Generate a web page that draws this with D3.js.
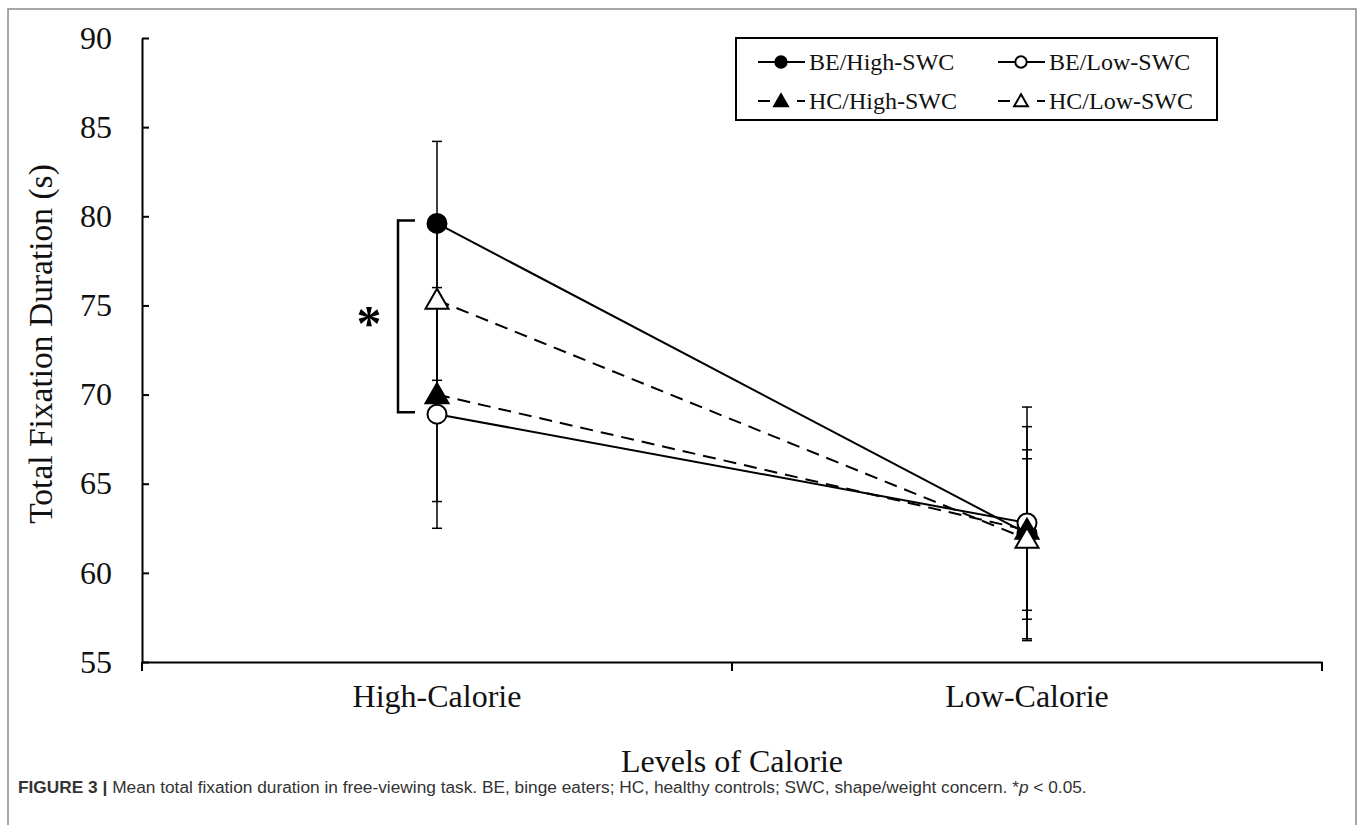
<!DOCTYPE html>
<html>
<head>
<meta charset="utf-8">
<script src="https://cdn.jsdelivr.net/npm/d3@7"></script>
<style>
  html, body { margin: 0; padding: 0; background: #fff; }
  svg { display: block; }
</style>
</head>
<body>
<svg id="chart" width="1363" height="825"></svg>
<script>
// ---------------- data ----------------
const categories = ["High-Calorie", "Low-Calorie"];
const seriesNames = ["BE/High-SWC", "BE/Low-SWC", "HC/High-SWC", "HC/Low-SWC"];
const beHighMeans = [79.6, 62.2];
const beLowMeans  = [68.9, 62.8];
const hcHighMeans = [70.0, 62.4];
const hcLowMeans  = [75.3, 61.9];
const beHighErr = [4.6, 6.0];
const beLowErr  = [6.4, 6.5];
const hcHighErr = [6.0, 4.5];
const hcLowErr  = [4.5, 4.5];
const yTicks = [55, 60, 65, 70, 75, 80, 85, 90];
const yTitle = "Total Fixation Duration (s)";
const xTitle = "Levels of Calorie";
const captionBold = "FIGURE 3 | ";
const captionText = "Mean total fixation duration in free-viewing task. BE, binge eaters; HC, healthy controls; SWC, shape/weight concern. *";
const captionItalic = "p";
const captionEnd = " < 0.05.";

// styling per series (not data)
const seriesStyle = [
  { shape: "circle",   fill: "#000", dash: null },
  { shape: "circle",   fill: "#fff", dash: null },
  { shape: "triangle", fill: "#000", dash: "13,8" },
  { shape: "triangle", fill: "#fff", dash: "13,8" }
];
const meansList = [beHighMeans, beLowMeans, hcHighMeans, hcLowMeans];
const errList = [beHighErr, beLowErr, hcHighErr, hcLowErr];
const series = seriesNames.map((name, i) => ({
  name,
  style: seriesStyle[i],
  values: categories.map((c, j) => ({ cat: c, mean: meansList[i][j], err: errList[i][j] }))
}));

// ---------------- layout ----------------
const svg = d3.select("#chart");
const serif = "'Liberation Serif', 'Times New Roman', serif";
const sans = "'Liberation Sans', Arial, Helvetica, sans-serif";

// figure frame
svg.append("rect")
  .attr("x", 8).attr("y", 9).attr("width", 1348).attr("height", 830)
  .attr("fill", "none").attr("stroke", "#8a8a8a").attr("stroke-width", 1.5);

const plot = { left: 142, right: 1322, top: 38, bottom: 662 };

const x = d3.scaleBand().domain(categories).range([plot.left, plot.right]).padding(0);
const y = d3.scaleLinear().domain([55, 90]).range([plot.bottom, plot.top]);
const cx = c => x(c) + x.bandwidth() / 2;

// y axis
const yAxis = svg.append("g")
  .attr("transform", `translate(${plot.left},0)`)
  .call(d3.axisLeft(y).tickValues(yTicks).tickSizeInner(-7).tickSizeOuter(0).tickPadding(30).tickFormat(d3.format("d")));
yAxis.select(".domain").attr("stroke", "#000").attr("stroke-width", 2);
yAxis.selectAll(".tick line").attr("stroke", "#000").attr("stroke-width", 2);
yAxis.selectAll(".tick text").attr("font-family", serif).attr("font-size", 32).attr("fill", "#111");

// x axis: labels at band centres, ticks at band edges
const xAxis = svg.append("g")
  .attr("transform", `translate(0,${plot.bottom})`)
  .call(d3.axisBottom(x).tickSize(0).tickPadding(22));
xAxis.select(".domain").attr("stroke", "#000").attr("stroke-width", 2);
xAxis.selectAll(".tick text").attr("font-family", serif).attr("font-size", 32).attr("fill", "#111");
const edges = categories.map(c => x(c)).concat([x(categories[categories.length - 1]) + x.bandwidth()]);
xAxis.selectAll(".edge-tick").data(edges).enter().append("line")
  .attr("class", "edge-tick")
  .attr("x1", d => d).attr("x2", d => d).attr("y1", 0).attr("y2", 9)
  .attr("stroke", "#000").attr("stroke-width", 2);

// axis titles
svg.append("text")
  .attr("transform", `translate(40,${(plot.top + plot.bottom) / 2 - 6}) rotate(-90)`)
  .attr("text-anchor", "middle").attr("dominant-baseline", "central")
  .attr("font-family", serif).attr("font-size", 33.5).attr("fill", "#111")
  .text(yTitle);
svg.append("text")
  .attr("x", (plot.left + plot.right) / 2).attr("y", 772)
  .attr("text-anchor", "middle")
  .attr("font-family", serif).attr("font-size", 32).attr("fill", "#111")
  .text(xTitle);

// ---------------- marks ----------------
const g = svg.append("g");

// error bars
series.forEach(s => {
  const eb = g.append("g");
  s.values.forEach(v => {
    const px = cx(v.cat);
    eb.append("line").attr("x1", px).attr("x2", px)
      .attr("y1", y(v.mean + v.err)).attr("y2", y(v.mean - v.err))
      .attr("stroke", "#000").attr("stroke-width", 1.5);
    [v.mean + v.err, v.mean - v.err].forEach(e => {
      eb.append("line").attr("x1", px - 5).attr("x2", px + 5)
        .attr("y1", y(e)).attr("y2", y(e))
        .attr("stroke", "#000").attr("stroke-width", 1.5);
    });
  });
});

// lines
const line = d3.line().x(d => cx(d.cat)).y(d => y(d.mean));
series.forEach(s => {
  g.append("path").datum(s.values)
    .attr("d", line)
    .attr("fill", "none").attr("stroke", "#000").attr("stroke-width", 2)
    .attr("stroke-dasharray", s.style.dash);
});

// markers
const triSym = d3.symbol().type(d3.symbolTriangle);
function drawMarker(sel, style, px, py, scale) {
  if (style.shape === "circle") {
    sel.append("circle").attr("cx", px).attr("cy", py).attr("r", 9.5 * scale)
      .attr("fill", style.fill).attr("stroke", "#000").attr("stroke-width", 2);
  } else {
    sel.append("path").attr("d", triSym.size(230 * scale * scale)())
      .attr("transform", `translate(${px},${py + 2 * scale})`)
      .attr("fill", style.fill).attr("stroke", "#000").attr("stroke-width", 2)
      .attr("stroke-linejoin", "miter");
  }
}
series.forEach(s => {
  s.values.forEach(v => drawMarker(g, s.style, cx(v.cat), y(v.mean), 1));
});

// significance bracket
const hiCat = categories[0];
const bx = cx(hiCat) - 39;
const bTop = y(beHighMeans[0]) - 3, bBot = y(beLowMeans[0]) - 2;
svg.append("path")
  .attr("d", `M${bx + 17},${bTop} H${bx} V${bBot} H${bx + 17}`)
  .attr("fill", "none").attr("stroke", "#000").attr("stroke-width", 2.5);
svg.append("text")
  .attr("x", bx - 29).attr("y", (bTop + bBot) / 2 + 24)
  .attr("text-anchor", "middle")
  .attr("font-family", serif).attr("font-weight", "bold").attr("font-size", 50)
  .text("*");

// ---------------- legend ----------------
const lg = svg.append("g");
lg.append("rect").attr("x", 736).attr("y", 38).attr("width", 481).attr("height", 82)
  .attr("fill", "#fff").attr("stroke", "#000").attr("stroke-width", 2);
const legPos = [
  { x: 758, y: 62 }, { x: 998, y: 62 }, { x: 758, y: 101 }, { x: 998, y: 101 }
];
series.forEach((s, i) => {
  const p = legPos[i];
  lg.append("line").attr("x1", p.x).attr("x2", p.x + 47).attr("y1", p.y).attr("y2", p.y)
    .attr("stroke", "#000").attr("stroke-width", 2)
    .attr("stroke-dasharray", s.style.dash ? "12,27,8" : null);
  drawMarker(lg, s.style, p.x + 23, p.y, 0.6);
  lg.append("text").attr("x", p.x + 51).attr("y", p.y + 8)
    .attr("font-family", serif).attr("font-size", 24).attr("fill", "#111")
    .text(s.name);
});

// ---------------- caption ----------------
const cap = svg.append("text").attr("x", 18).attr("y", 793)
  .attr("font-family", sans).attr("font-size", 17.3).attr("fill", "#333");
cap.append("tspan").attr("font-weight", "bold").text(captionBold);
cap.append("tspan").text(captionText);
cap.append("tspan").attr("font-style", "italic").text(captionItalic);
cap.append("tspan").text(captionEnd);
</script>
</body>
</html>
